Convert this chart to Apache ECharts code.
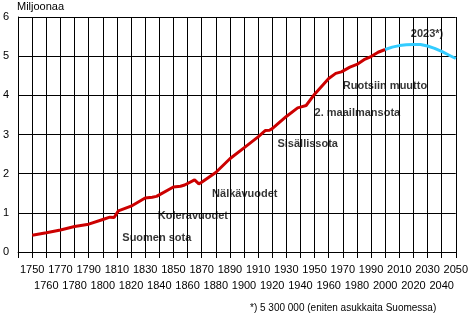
<!DOCTYPE html>
<html>
<head>
<meta charset="utf-8">
<script src="https://cdn.jsdelivr.net/npm/echarts@6/dist/echarts.min.js"></script>
<style>html,body{margin:0;padding:0;background:#fff;}#c{width:471px;height:317px;}</style>
</head>
<body>
<div id="c"></div>
<script>
// Historical population (millions)
const histYears = [1750,1760,1770,1780,1790,1800,1805,1808,1809,1811,1820,1830,1835,1838,1840,1850,1855,1858,1865,1868,1870,1880,1890,1900,1910,1915,1918,1920,1930,1938,1940,1944,1950,1960,1965,1969,1970,1975,1980,1985,1990,1995,2000];
const histValues = [0.43,0.49,0.56,0.65,0.71,0.83,0.89,0.88,0.84,1.05,1.17,1.38,1.40,1.42,1.46,1.66,1.68,1.71,1.84,1.74,1.78,2.03,2.38,2.66,2.94,3.10,3.11,3.15,3.46,3.68,3.70,3.74,4.03,4.43,4.56,4.60,4.60,4.72,4.79,4.91,4.99,5.10,5.17];
// Projection
const projYears = [2000,2005,2010,2015,2020,2023,2025,2030,2035,2040,2045,2050];
const projValues = [5.17,5.23,5.27,5.29,5.30,5.30,5.30,5.26,5.20,5.12,5.03,4.94];
// Annotations
const eventLabels = ["Suomen sota","Koleravuodet","Nälkävuodet","Sisällissota","2. maailmansota","Ruotsiin muutto","2023*)"];
const eventYears = [1813.8, 1838.9, 1877.4, 1923.7, 1950, 1970, 2018.2];
const eventValues = [0.35, 0.93, 1.47, 2.76, 3.56, 4.24, 5.56];
// Tick labels (two staggered rows)
const xLabelsRow1 = [1750,1770,1790,1810,1830,1850,1870,1890,1910,1930,1950,1970,1990,2010,2030,2050];
const xLabelsRow2 = [1760,1780,1800,1820,1840,1860,1880,1900,1920,1940,1960,1980,2000,2020,2040];
const yTicks = [0,1,2,3,4,5,6];
const yName = "Miljoonaa";
const footnote = "*) 5 300 000 (eniten asukkaita Suomessa)";

const FONT = '"Liberation Sans", Arial, sans-serif';
const chart = echarts.init(document.getElementById('c'), null, {renderer:'canvas'});
const histData = histYears.map((y,i)=>[y,histValues[i]]);
const projData = projYears.map((y,i)=>[y,projValues[i]]);
const evData = eventYears.map((y,i)=>({value:[y,eventValues[i]], name:eventLabels[i]}));

function rowAxis(labels, margin, main){
  return {
    type:'value',min:1740,max:2050,interval:10,position:'bottom',
    axisLine:{show:main,onZero:false,lineStyle:{color:'#000',width:1}},
    axisTick:{show:main,length:6,lineStyle:{color:'#000'}},
    splitLine:{show:main,lineStyle:{color:'#000',width:1}},
    axisLabel:{
      show:true,margin:margin,color:'#000',fontFamily:FONT,fontSize:11,
      showMinLabel:true,showMaxLabel:true,hideOverlap:false,
      formatter:function(v){ return labels.indexOf(v)>=0 ? String(v) : ''; }
    }
  };
}

chart.setOption({
  animation:false,
  backgroundColor:'#fff',
  grid:{left:17,right:14,top:17,bottom:65,containLabel:false},
  xAxis:[ rowAxis(xLabelsRow1, 12, true), rowAxis(xLabelsRow2, 28, false) ],
  yAxis:{
    type:'value',min:0,max:6,interval:1,
    axisLine:{show:true,lineStyle:{color:'#000',width:1}},
    axisTick:{show:false},
    splitLine:{show:true,lineStyle:{color:'#000',width:1}},
    axisLabel:{margin:9,color:'#000',fontFamily:FONT,fontSize:11,
      formatter:function(v){return yTicks.indexOf(v)>=0?String(v):'';}}
  },
  series:[
    {type:'line',data:histData,showSymbol:false,symbol:'none',
      lineStyle:{color:'#cc0000',width:3},itemStyle:{color:'#cc0000'}},
    {type:'line',data:projData,showSymbol:false,symbol:'none',
      lineStyle:{color:'#33ccff',width:3},itemStyle:{color:'#33ccff'}},
    {type:'scatter',data:evData,symbolSize:0,silent:true,
      label:{show:true,position:'right',distance:0,formatter:function(p){return p.name;},
        color:'#000',fontFamily:FONT,fontSize:11,fontWeight:'bold'}}
  ],
  graphic:[
    {type:'text',left:17,top:1,style:{text:yName,fill:'#000',font:'11px '+FONT}},
    {type:'text',left:250,top:303,style:{text:footnote,fill:'#000',font:'10px '+FONT}}
  ]
});
</script>
</body>
</html>
